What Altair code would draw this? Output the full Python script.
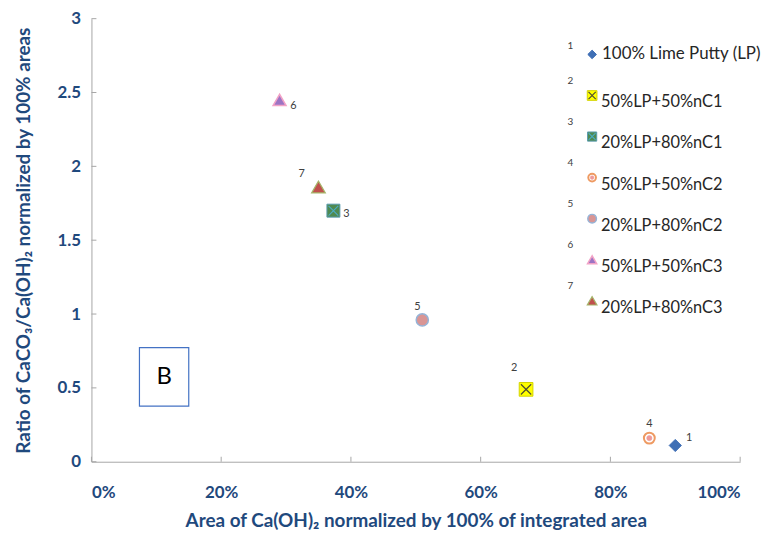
import altair as alt
import pandas as pd

# ---- data ----
ids = ["1", "2", "3", "4", "5", "6", "7"]
names = ["100% Lime Putty (LP)", "50%LP+50%nC1", "20%LP+80%nC1", "50%LP+50%nC2",
         "20%LP+80%nC2", "50%LP+50%nC3", "20%LP+80%nC3"]
area = [0.90, 0.67, 0.373, 0.86, 0.51, 0.29, 0.35]
ratio = [0.11, 0.49, 1.70, 0.16, 0.96, 2.45, 1.86]

x_ticks = [0, 0.2, 0.4, 0.6, 0.8, 1.0]
y_ticks = [0, 0.5, 1, 1.5, 2, 2.5, 3]

panel_label = ["B"]
panel_x = [0.074]
panel_x2 = [0.15]
panel_y = [0.377]
panel_y2 = [0.773]

# ---- tables ----
df = pd.DataFrame({"id": ids, "name": names, "area": area, "ratio": ratio,
                   "row": list(range(len(ids)))})
ticks_x = pd.DataFrame({"area": x_ticks})
ticks_y = pd.DataFrame({"ratio": y_ticks})
panel = pd.DataFrame({"label": panel_label, "area": panel_x, "area2": panel_x2,
                      "ratio": panel_y, "ratio2": panel_y2})

W, H = 653, 446
BLUE = "#1F497D"
FONT = "Lato"
XPATH = "M-0.75,-0.75L0.75,0.75M0.75,-0.75L-0.75,0.75"

styles = {
    "1": [dict(shape="diamond", fill="#3F6FB5", stroke="#3F6FB5", strokeWidth=1, size=150)],
    "2": [dict(shape="square", fill="#FFFF00", stroke="#D4D400", strokeWidth=1, size=190),
          dict(shape=XPATH, stroke="#4D4D33", strokeWidth=1.2, size=190, filled=False)],
    "3": [dict(shape="square", fill="#4F8A50", stroke="#5B9BB0", strokeWidth=1, size=170),
          dict(shape=XPATH, stroke="#4BACC6", strokeWidth=1.1, size=170, filled=False)],
    "4": [dict(shape="circle", fill="#FFFFFF", stroke="#EE9A62", strokeWidth=2, size=120),
          dict(shape="circle", fill="#EE9A9A", stroke="#EE9A9A", strokeWidth=0.5, size=28)],
    "5": [dict(shape="circle", fill="#D99594", stroke="#95B3D7", strokeWidth=1.5, size=150)],
    "6": [dict(shape="triangle-up", fill="#9C74C4", stroke="#F2A2C6", strokeWidth=1.5, size=170)],
    "7": [dict(shape="triangle-up", fill="#C0504D", stroke="#A5B56A", strokeWidth=1.2, size=190)],
}
label_offsets = {"1": (14, -8), "2": (-12, -21), "3": (13, 3), "4": (0, -14),
                 "5": (-5, -13), "6": (14, 6), "7": (-17, -13)}

x_axis = alt.Axis(format="%", values=x_ticks, labelFont=FONT, labelFontSize=17,
                  labelFontWeight="bold", labelColor=BLUE, labelPadding=23, ticks=False,
                  domainColor="#A6A6A6", grid=False, titleFont=FONT, titleFontSize=19,
                  titleFontWeight="bold", titleColor=BLUE, titlePadding=11,
                  title="Area of Ca(OH)₂ normalized by 100% of integrated area")
y_axis = alt.Axis(format="~g", values=y_ticks, labelFont=FONT, labelFontSize=17,
                  labelFontWeight="bold", labelColor=BLUE, labelPadding=11, ticks=False,
                  domainColor="#A6A6A6", grid=False, titleFont=FONT, titleFontSize=19,
                  titleFontWeight="bold", titleColor=BLUE, titlePadding=24,
                  title="Ratio of CaCO₃/Ca(OH)₂ normalized by 100% areas")
xs = alt.Scale(domain=[0, 1], nice=False, zero=False)
ys = alt.Scale(domain=[0, 3], nice=False, zero=False)
X = alt.X("area:Q", scale=xs, axis=x_axis)
Y = alt.Y("ratio:Q", scale=ys, axis=y_axis)

base = alt.Chart(df)
main_layers = []

# inside tick marks
main_layers.append(alt.Chart(ticks_x).mark_rule(color="#A6A6A6", strokeWidth=1).encode(
    x=X, y=alt.value(H - 5), y2=alt.value(H)))
main_layers.append(alt.Chart(ticks_y).mark_rule(color="#A6A6A6", strokeWidth=1).encode(
    y=Y, x=alt.value(0), x2=alt.value(5)))

# panel box "B"
main_layers.append(alt.Chart(panel).mark_rect(fill="white", stroke="#4472C4", strokeWidth=1.2).encode(
    x=X, x2="area2:Q", y=Y, y2="ratio2:Q"))
main_layers.append(alt.Chart(panel).transform_calculate(
    cx="(datum.area + datum.area2) / 2", cy="(datum.ratio + datum.ratio2) / 2"
).mark_text(font=FONT, fontSize=24, color="#000000", baseline="middle", align="center").encode(
    x=alt.X("cx:Q", scale=xs, axis=x_axis), y=alt.Y("cy:Q", scale=ys, axis=y_axis), text="label:N"))

# data points
for i in ids:
    for st in styles[i]:
        st = dict(st)
        filled = st.pop("filled", True)
        main_layers.append(base.transform_filter(alt.datum.id == i).mark_point(
            filled=filled, opacity=1, **st).encode(x=X, y=Y))
    dx, dy = label_offsets[i]
    main_layers.append(base.transform_filter(alt.datum.id == i).mark_text(
        font=FONT, fontSize=11, color="#404040", dx=dx, dy=dy, align="center",
        baseline="middle").encode(x=X, y=Y, text="id:N"))

main = alt.layer(*main_layers)

# legend built from the same table
LY = alt.Y("row:Q", scale=alt.Scale(domain=[0, 6], range=[36, 284]), axis=None)
leg_layers = []
for i in ids:
    for st in styles[i]:
        st = dict(st)
        filled = st.pop("filled", True)
        st["size"] = st["size"] * 0.5
        leg_layers.append(base.transform_filter(alt.datum.id == i).mark_point(
            filled=filled, opacity=1, **st).encode(x=alt.value(504), y=LY))
leg_layers.append(base.transform_filter(alt.datum.row == 0).mark_text(
    font=FONT, fontSize=17, color="#262626", align="left", baseline="middle", dy=0
).encode(x=alt.value(514), y=LY, text="name:N"))
leg_layers.append(base.transform_filter(alt.datum.row > 0).mark_text(
    font=FONT, fontSize=16.5, color="#262626", align="left", baseline="middle", dy=7
).encode(x=alt.value(513), y=LY, text="name:N"))
leg_layers.append(base.transform_filter(alt.datum.row == 0).mark_text(
    font=FONT, fontSize=10, color="#404040", align="center", baseline="middle", dy=-8
).encode(x=alt.value(482), y=LY, text="id:N"))
leg_layers.append(base.transform_filter(alt.datum.row > 0).mark_text(
    font=FONT, fontSize=10, color="#404040", align="center", baseline="middle", dy=-15
).encode(x=alt.value(482), y=LY, text="id:N"))
legend = alt.layer(*leg_layers)

chart = alt.layer(main, legend).resolve_scale(y="independent").properties(
    width=W, height=H, padding={"left": 6, "top": 0, "right": 0, "bottom": 0}
).configure_view(stroke=None)

chart.save("out.html", embed_options={"renderer": "svg", "actions": False})
